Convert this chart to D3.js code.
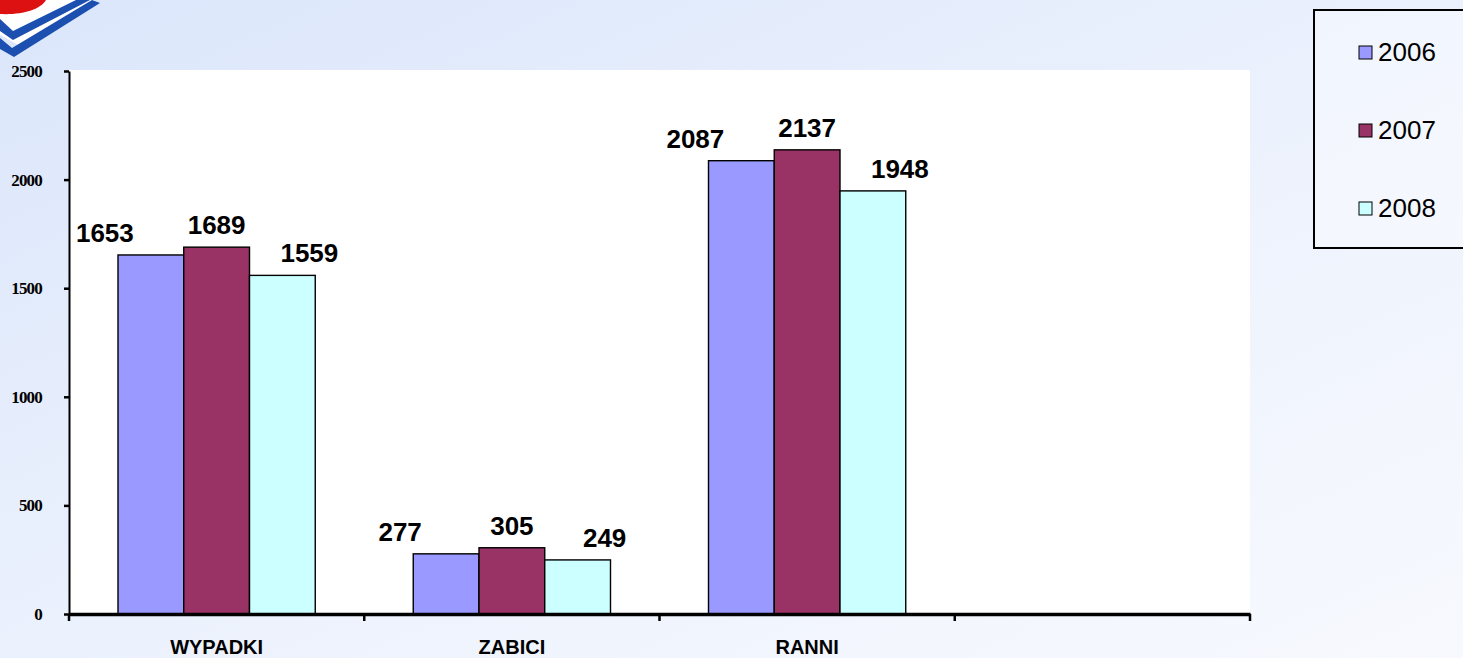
<!DOCTYPE html>
<html lang="pl">
<head>
  <meta charset="utf-8" />
  <title>Wypadki 2006-2008</title>
  <script src="https://cdn.jsdelivr.net/npm/d3@7"></script>
  <style>
    body { margin: 0; overflow: hidden; }
    svg { display: block; }
  </style>
</head>
<body>
<script>
  // data
  var categories = ["WYPADKI", "ZABICI", "RANNI", ""];
  var years = ["2006", "2007", "2008"];
  var v2006 = [1653, 277, 2087];
  var v2007 = [1689, 305, 2137];
  var v2008 = [1559, 249, 1948];
  var yTicks = [0, 500, 1000, 1500, 2000, 2500];

  var colors = ["#9999ff", "#993366", "#ccffff"];
  var labelShift = [-46, 0, 27];   // labels sit a bit left / right of their bar
  var series = [v2006, v2007, v2008];

  var W = 1463, H = 658;
  var m = {left: 69, right: 213, top: 71, bottom: 44};

  var svg = d3.select("body").append("svg")
    .attr("width", W)
    .attr("height", H);

  // background gradient
  var defs = svg.append("defs");
  var grad = defs.append("linearGradient").attr("id", "bg")
    .attr("x1", "0").attr("y1", "0").attr("x2", "1").attr("y2", "1");
  grad.append("stop").attr("offset", "0").attr("stop-color", "#dbe6fb");
  grad.append("stop").attr("offset", "0.6").attr("stop-color", "#eef3fd");
  grad.append("stop").attr("offset", "1").attr("stop-color", "#f7f9fe");
  svg.append("rect").attr("width", W).attr("height", H).attr("fill", "url(#bg)");

  // logo fragment top-left
  var logo = svg.append("g");
  logo.append("path")
    .attr("d", "M-5,0 L95,0 L20,46 L-5,32 Z")
    .attr("fill", "#ffffff");
  logo.append("path")
    .attr("d", "M0,0 L46,0 C40,10 22,15 0,14 Z")
    .attr("fill", "#dd1111");
  logo.append("path")
    .attr("d", "M0,19 L13,31 L76,0 L90,0 L13,40 L0,31 Z")
    .attr("fill", "#1b4fb0");
  logo.append("path")
    .attr("d", "M0,38 L12,48 L92,0 L100,3 L14,57 L0,49 Z")
    .attr("fill", "#1b4fb0");

  var innerW = W - m.left - m.right;
  var innerH = H - m.top - m.bottom;

  var g = svg.append("g").attr("transform", "translate(" + m.left + "," + m.top + ")");

  // white plot area
  g.append("rect")
    .attr("x", 0).attr("y", -1)
    .attr("width", innerW).attr("height", innerH + 1)
    .attr("fill", "#ffffff");

  var x0 = d3.scaleBand().domain(categories).range([0, innerW]).paddingInner(0).paddingOuter(0);
  var x1 = d3.scaleBand().domain(years).range([49, x0.bandwidth() - 49]).padding(0);
  var y = d3.scaleLinear().domain([0, 2500]).range([innerH, 0]);

  // bars
  years.forEach(function(yr, si) {
    var vals = series[si];
    g.selectAll(".bar" + yr)
      .data(vals)
      .enter().append("rect")
      .attr("x", function(d, i) { return x0(categories[i]) + x1(yr); })
      .attr("y", function(d) { return y(d); })
      .attr("width", x1.bandwidth())
      .attr("height", function(d) { return innerH - y(d); })
      .attr("fill", colors[si])
      .attr("stroke", "#000")
      .attr("stroke-width", 1.4);

    g.selectAll(".lab" + yr)
      .data(vals)
      .enter().append("text")
      .attr("x", function(d, i) { return x0(categories[i]) + x1(yr) + x1.bandwidth() / 2 + labelShift[si]; })
      .attr("y", function(d) { return y(d) - 13; })
      .attr("text-anchor", "middle")
      .style("font-family", "Arial, 'Liberation Sans', sans-serif")
      .style("font-weight", "bold")
      .style("font-size", "26px")
      .style("fill", "#000")
      .text(function(d) { return d; });
  });

  // y axis
  var yAxis = g.append("g")
    .call(d3.axisLeft(y).tickValues(yTicks).tickFormat(d3.format("d"))
      .tickSize(5).tickSizeOuter(0).tickPadding(22));
  yAxis.select(".domain").attr("stroke-width", 2);
  yAxis.selectAll(".tick line").attr("stroke-width", 2.5);
  yAxis.selectAll("text")
    .style("font-family", "'Liberation Serif', 'Times New Roman', serif")
    .style("font-weight", "bold")
    .style("font-size", "17px")
    .style("letter-spacing", "-0.8px")
    .attr("dy", "0.32em");

  // x axis
  var xAxis = g.append("g")
    .attr("transform", "translate(0," + innerH + ")")
    .call(d3.axisBottom(x0).tickSize(0).tickPadding(24));
  xAxis.select(".domain").attr("stroke-width", 3.5);
  xAxis.selectAll("text")
    .style("font-family", "Arial, 'Liberation Sans', sans-serif")
    .style("font-weight", "bold")
    .style("font-size", "20px")
    .attr("dy", "0.78em");

  // category separators below the axis
  var sepPos = categories.map(function(c) { return x0(c); }).concat([innerW]);
  xAxis.selectAll(".sep")
    .data(sepPos)
    .enter().append("line")
    .attr("x1", function(d) { return d; })
    .attr("x2", function(d) { return d; })
    .attr("y1", 0).attr("y2", 7)
    .attr("stroke", "#000")
    .attr("stroke-width", 2.5);

  // legend
  var lg = svg.append("g").attr("transform", "translate(1314,10)");
  lg.append("rect")
    .attr("width", 160).attr("height", 238)
    .attr("fill", "#ffffff").attr("fill-opacity", 0.35)
    .attr("stroke", "#000").attr("stroke-width", 2);
  var items = lg.selectAll(".item").data(years).enter().append("g")
    .attr("transform", function(d, i) { return "translate(45," + (36 + i * 78) + ")"; });
  items.append("rect")
    .attr("width", 13).attr("height", 13)
    .attr("fill", function(d, i) { return colors[i]; })
    .attr("stroke", "#000").attr("stroke-width", 1);
  items.append("text")
    .attr("x", 19).attr("y", 15)
    .style("font-family", "Arial, 'Liberation Sans', sans-serif")
    .style("font-size", "26px")
    .style("fill", "#000")
    .text(function(d) { return d; });
</script>
</body>
</html>
